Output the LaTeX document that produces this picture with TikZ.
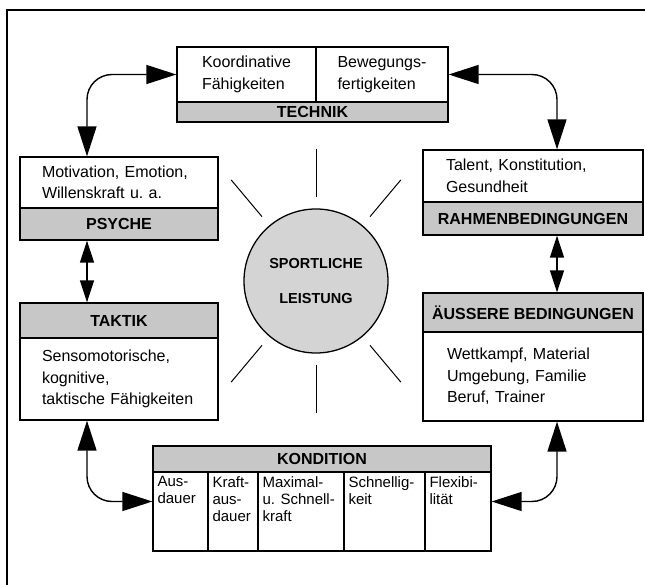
\documentclass[tikz,border=0pt]{standalone}
\usepackage{fontspec}
\setmainfont{Liberation Sans}
\usetikzlibrary{arrows.meta}

\begin{document}
\begin{tikzpicture}[
      x=1pt, y=-1pt,
      body/.style={rectangle,
                   draw,
                   line width=1.3pt,
                   fill=white,
                   inner sep=0pt,
                   align=left,
                   font=\fontsize{16}{21.5}\selectfont},
      head/.style={rectangle,
                   draw,
                   line width=1.3pt,
                   fill=black!22,
                   inner sep=0pt,
                   font=\fontsize{16}{19}\selectfont\bfseries},
      cell/.style={rectangle,
                   draw,
                   line width=1.3pt,
                   fill=white,
                   minimum height=79pt,
                   inner sep=0pt},
      celltext/.style={anchor=north west,
                   align=left,
                   inner sep=5pt,
                   font=\fontsize{15}{17}\selectfont},
      sun/.style={circle,
                   draw,
                   line width=1.3pt,
                   fill=black!17,
                   minimum size=144pt,
                   inner sep=0pt,
                   align=center,
                   font=\fontsize{14.5}{35}\selectfont\bfseries},
      link/.style={line width=1.4pt,
                   rounded corners=25pt,
                   >={Triangle[length=30pt,width=19pt]},
                   <->},
      shortlink/.style={line width=1.4pt,
                   >={Triangle[length=22pt,width=14pt]},
                   <->},
      ray/.style={line width=1pt}
    ]

    \useasboundingbox (0,0) rectangle (645,585);
    \draw [line width=1.5pt] (7,585) -- (7,10) -- (645,10);

    % Technik
    \draw (246.5,74.5)
          node[body, minimum width=139pt, minimum height=55pt]
          (koord)
          { Koordinative\\Fähigkeiten };
    \draw (382,74.5)
          node[body, minimum width=132pt, minimum height=55pt]
          (beweg)
          { Bewegungs-\\fertigkeiten };
    \draw (312.5,112)
          node[head, minimum width=271pt, minimum height=20pt]
          (technikhead)
          { TECHNIK };

    % Psyche
    \draw (119,182.5)
          node[body, minimum width=198pt, minimum height=51pt, text width=154pt]
          (psyche)
          { Motivation, Emotion,\\Willenskraft u.~a. };
    \draw (119,224)
          node[head, minimum width=198pt, minimum height=32pt]
          (psychehead)
          { PSYCHE };

    % Taktik
    \draw (119,320.5)
          node[head, minimum width=198pt, minimum height=35pt]
          (taktikhead)
          { TAKTIK };
    \draw (119,379)
          node[body, minimum width=198pt, minimum height=82pt, text width=154pt]
          (taktik)
          { Sensomotorische,\\kognitive,\\taktische Fähigkeiten };

    % Rahmenbedingungen
    \draw (533,176)
          node[body, minimum width=220pt, minimum height=52pt, text width=174pt]
          (rahmen)
          { Talent, Konstitution,\\Gesundheit };
    \draw (533,218.5)
          node[head, minimum width=220pt, minimum height=33pt]
          (rahmenhead)
          { RAHMENBEDINGUNGEN };

    % Aeussere Bedingungen
    \draw (533,312.5)
          node[head, minimum width=220pt, minimum height=39pt]
          (aeusserehead)
          { ÄUSSERE BEDINGUNGEN };
    \draw (533,376.5)
          node[body, minimum width=220pt, minimum height=89pt, text width=172pt]
          (aeussere)
          { Wettkampf, Material\\Umgebung, Familie\\Beruf, Trainer };

    % Kondition
    \draw (322,459)
          node[head, minimum width=338pt, minimum height=26pt]
          (konditionhead)
          { KONDITION };
    \draw (180.5,511.5)
          node[cell, minimum width=55pt,
               label={[celltext]north west:Aus-\\dauer}]
          (ausdauer) {};
    \draw (233,511.5)
          node[cell, minimum width=50pt,
               label={[celltext]north west:Kraft-\\aus-\\dauer}]
          (kraftausdauer) {};
    \draw (301,511.5)
          node[cell, minimum width=86pt,
               label={[celltext]north west:Maximal-\\u. Schnell-\\kraft}]
          (maxkraft) {};
    \draw (384.5,511.5)
          node[cell, minimum width=81pt,
               label={[celltext]north west:Schnellig-\\keit}]
          (schnell) {};
    \draw (458,511.5)
          node[cell, minimum width=66pt,
               label={[celltext]north west:Flexibi-\\lität}]
          (flex) {};

    % Sportliche Leistung
    \foreach \ang in {50,90,130,230,270,310}
      \draw [ray] ([shift={(\ang:84)}]316,281) -- ([shift={(\ang:132)}]316,281);
    \draw (316,281)
          node[sun]
          (leistung)
          { SPORTLICHE\\LEISTUNG };

    % Verbindungen
    \draw [link] (koord.west) -| ([xshift=-32pt]psyche.north);
    \draw [link] (beweg.east) -| ([xshift=24pt]rahmen.north);
    \draw [shortlink] ([xshift=-32pt]psychehead.south) --
                      ([xshift=-32pt]taktikhead.north);
    \draw [shortlink] ([xshift=24pt]rahmenhead.south) --
                      ([xshift=24pt]aeusserehead.north);
    \draw [link] ([xshift=-32pt]taktik.south) |- ([yshift=10pt]ausdauer.west);
    \draw [link] ([xshift=24pt]aeussere.south) |- ([yshift=10pt]flex.east);

\end{tikzpicture}
\end{document}
